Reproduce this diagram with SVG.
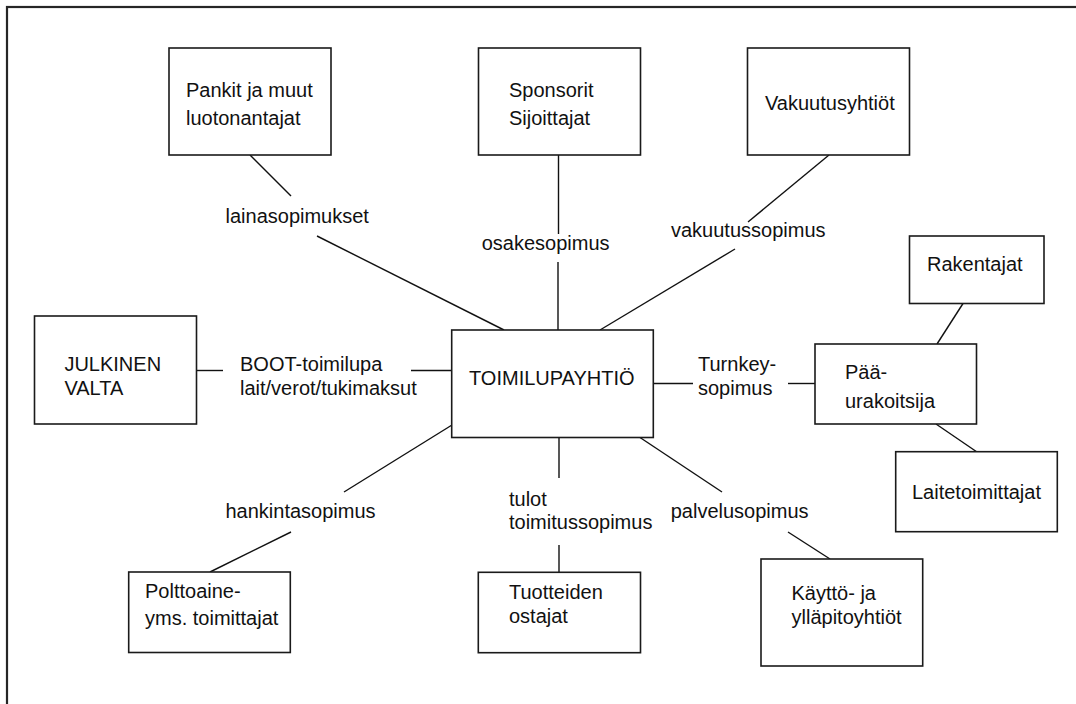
<svg xmlns="http://www.w3.org/2000/svg" width="1076" height="704" viewBox="0 0 1076 704">
<style>
.box{fill:#fff;stroke:#1a1a1a;stroke-width:1.6}
.t{font-family:"Liberation Sans",Arial,sans-serif;font-size:20px;fill:#111}
.c line{stroke:#111;stroke-width:1.4}
</style>
<rect x="0" y="0" width="1076" height="704" fill="#fff"/>
<rect id="frame" x="7" y="7" width="1120" height="760" fill="none" stroke="#262626" stroke-width="2.2"/>
<g class="c" id="connectors">
<line x1="250" y1="155" x2="291" y2="196"/>
<line x1="317" y1="236" x2="504" y2="330"/>
<line x1="558.5" y1="155" x2="558.5" y2="234"/>
<line x1="558" y1="262" x2="558" y2="330"/>
<line x1="829" y1="155" x2="748" y2="222"/>
<line x1="735" y1="249" x2="600" y2="330"/>
<line x1="196" y1="370.5" x2="223" y2="370.5"/>
<line x1="411" y1="370.5" x2="452" y2="370.5"/>
<line x1="653" y1="383.5" x2="693" y2="383.5"/>
<line x1="788" y1="383.5" x2="815" y2="383.5"/>
<line x1="963" y1="303.5" x2="937" y2="344"/>
<line x1="936" y1="424" x2="977" y2="452"/>
<line x1="452" y1="425" x2="344" y2="492"/>
<line x1="291" y1="532" x2="210" y2="572"/>
<line x1="559" y1="437.5" x2="559" y2="478"/>
<line x1="559" y1="545" x2="559" y2="572.5"/>
<line x1="640" y1="437.5" x2="722" y2="492"/>
<line x1="788" y1="532" x2="830" y2="559"/>
</g>
<g id="labels">
<text class="t" x="225.5" y="222.7">lainasopimukset</text>
<text class="t" x="481.7" y="250">osakesopimus</text>
<text class="t" x="671" y="236.7">vakuutussopimus</text>
<text class="t" x="240" y="371">BOOT-toimilupa</text>
<text class="t" x="240" y="395">lait/verot/tukimaksut</text>
<text class="t" x="698" y="371">Turnkey-</text>
<text class="t" x="698" y="395">sopimus</text>
<text class="t" x="225.5" y="518.3">hankintasopimus</text>
<text class="t" x="509" y="505.7">tulot</text>
<text class="t" x="509" y="529">toimitussopimus</text>
<text class="t" x="670.7" y="518.3">palvelusopimus</text>
</g>
<g id="pankit"><rect class="box" x="169" y="48" width="162" height="107"/>
<text class="t" x="186" y="96.7">Pankit ja muut</text><text class="t" x="186" y="125">luotonantajat</text></g>
<g id="sponsorit"><rect class="box" x="478.5" y="48" width="162" height="107"/>
<text class="t" x="509" y="96.7">Sponsorit</text><text class="t" x="509" y="125">Sijoittajat</text></g>
<g id="vakuutusyhtiot"><rect class="box" x="747.5" y="48" width="162" height="107"/>
<text class="t" x="765" y="110">Vakuutusyhtiöt</text></g>
<g id="rakentajat"><rect class="box" x="909.5" y="236" width="134.5" height="67.5"/>
<text class="t" x="927" y="271">Rakentajat</text></g>
<g id="julkinen"><rect class="box" x="34.5" y="316" width="162" height="108"/>
<text class="t" x="64.4" y="370.7">JULKINEN</text><text class="t" x="64.4" y="395">VALTA</text></g>
<g id="toimilupayhtio"><rect class="box" x="451.7" y="330" width="201.6" height="107.5"/>
<text class="t" x="469" y="385">TOIMILUPAYHTIÖ</text></g>
<g id="paaurakoitsija"><rect class="box" x="815" y="344" width="161.5" height="80"/>
<text class="t" x="845" y="378.8">Pää-</text><text class="t" x="845" y="408.3">urakoitsija</text></g>
<g id="laitetoimittajat"><rect class="box" x="895.7" y="451.7" width="161.6" height="80"/>
<text class="t" x="912" y="499.3">Laitetoimittajat</text></g>
<g id="polttoaine"><rect class="box" x="128.7" y="572" width="161.6" height="80.5"/>
<text class="t" x="145" y="598">Polttoaine-</text><text class="t" x="145" y="624.5">yms. toimittajat</text></g>
<g id="tuotteiden"><rect class="box" x="478.3" y="572.3" width="162.2" height="80.4"/>
<text class="t" x="509" y="599">Tuotteiden</text><text class="t" x="509" y="623">ostajat</text></g>
<g id="kaytto"><rect class="box" x="761" y="559" width="161.7" height="107"/>
<text class="t" x="791.5" y="600">Käyttö- ja</text><text class="t" x="791.5" y="623.5">ylläpitoyhtiöt</text></g>
</svg>
